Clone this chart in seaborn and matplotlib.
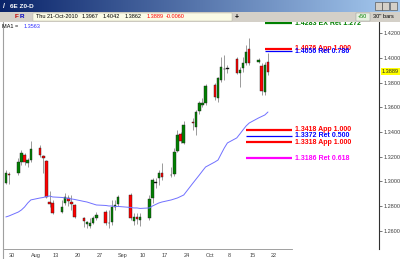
import numpy as np
import pandas as pd
import matplotlib
matplotlib.use("Agg")
import matplotlib.pyplot as plt
import seaborn as sns
from matplotlib.patches import Rectangle
from matplotlib.colors import LinearSegmentedColormap

# ---------------- data ----------------
dates = ['2010-07-29','2010-07-30','2010-08-02','2010-08-03','2010-08-04','2010-08-05','2010-08-06',
         '2010-08-09','2010-08-10','2010-08-11','2010-08-12','2010-08-13','2010-08-16','2010-08-17',
         '2010-08-18','2010-08-19','2010-08-20','2010-08-23','2010-08-24','2010-08-25','2010-08-26',
         '2010-08-27','2010-08-30','2010-08-31','2010-09-01','2010-09-02','2010-09-03','2010-09-07',
         '2010-09-08','2010-09-09','2010-09-10','2010-09-13','2010-09-14','2010-09-15','2010-09-16',
         '2010-09-17','2010-09-20','2010-09-21','2010-09-22','2010-09-23','2010-09-24','2010-09-27',
         '2010-09-28','2010-09-29','2010-09-30','2010-10-01','2010-10-04','2010-10-05','2010-10-06',
         '2010-10-07','2010-10-08','2010-10-11','2010-10-12','2010-10-13','2010-10-14','2010-10-15',
         '2010-10-18','2010-10-19','2010-10-20','2010-10-21']
opens = [1.2987,1.3061,1.3069,1.3158,1.3215,1.3150,1.3174,1.3271,1.3207,1.3166,1.2833,1.2825,1.2752,1.2825,
         1.2866,1.2833,1.2809,1.2704,1.2655,1.2639,1.2663,1.2704,1.2752,1.2663,1.2671,1.2793,1.2817,1.2890,
         1.2679,1.2712,1.2687,1.2704,1.2866,1.2987,1.3028,1.3069,1.3053,1.3061,1.3247,1.3385,1.3312,1.3482,
         1.3442,1.3571,1.3620,1.3636,1.3782,1.3677,1.3823,1.3912,1.3912,1.3993,1.3880,1.3920,1.3961,1.4074,
         1.3969,1.3936,1.3726,1.3967]
highs = [1.3093,1.3077,1.3190,1.3255,1.3231,1.3190,1.3328,1.3296,1.3215,1.3174,1.2923,1.2850,1.2850,1.2907,
         1.2890,1.2890,1.2817,1.2712,1.2679,1.2704,1.2720,1.2752,1.2769,1.2769,1.2850,1.2850,1.2890,1.2907,
         1.2744,1.2744,1.2744,1.2890,1.3028,1.3028,1.3093,1.3150,1.3118,1.3271,1.3417,1.3401,1.3490,1.3515,
         1.3580,1.3653,1.3677,1.3790,1.3799,1.3847,1.4009,1.4026,1.3945,1.4009,1.3928,1.4009,1.4107,1.4164,
         1.4001,1.3961,1.3969,1.4042]
lows = [1.2979,1.2979,1.3053,1.3134,1.3134,1.3118,1.3158,1.3198,1.3069,1.2866,1.2793,1.2736,1.2744,1.2809,
        1.2801,1.2769,1.2704,1.2631,1.2623,1.2623,1.2655,1.2687,1.2647,1.2623,1.2647,1.2769,1.2801,1.2687,
        1.2647,1.2655,1.2639,1.2687,1.2825,1.2947,1.2971,1.3012,1.3036,1.3044,1.3239,1.3312,1.3304,1.3417,
        1.3377,1.3547,1.3604,1.3620,1.3661,1.3644,1.3807,1.3823,1.3880,1.3872,1.3766,1.3888,1.3945,1.3945,
        1.3961,1.3701,1.3701,1.3862]
closes = [1.3069,1.3053,1.3158,1.3231,1.3158,1.3174,1.3263,1.3215,1.3190,1.2874,1.2817,1.2744,1.2793,1.2874,
          1.2842,1.2817,1.2712,1.2679,1.2671,1.2663,1.2704,1.2728,1.2663,1.2659,1.2793,1.2805,1.2874,1.2704,
          1.2712,1.2696,1.2712,1.2858,1.3012,1.2991,1.3069,1.3036,1.3049,1.3239,1.3377,1.3328,1.3458,1.3474,
          1.3563,1.3636,1.3636,1.3774,1.3685,1.3839,1.3928,1.3908,1.3916,1.3880,1.3904,1.3961,1.4050,1.3961,
          1.3985,1.3734,1.3945,1.3889]
ma1 = [1.2712,1.2720,1.2752,1.2769,1.2793,1.2825,1.2850,1.2866,1.2870,1.2878,1.2882,1.2874,1.2870,1.2866,
       1.2862,1.2858,1.2854,1.2838,1.2833,1.2825,1.2817,1.2809,1.2805,1.2801,1.2801,1.2797,1.2797,1.2789,
       1.2785,1.2785,1.2781,1.2785,1.2801,1.2813,1.2825,1.2833,1.2850,1.2858,1.2866,1.2878,1.2890,1.2988,
       1.3020,1.3052,1.3085,1.3117,1.3158,1.3174,1.3223,1.3271,1.3312,1.3353,1.3385,1.3418,1.3450,1.3474,
       1.3515,1.3527,1.3539,1.3563]

level_prices = [1.4283, 1.4076, 1.4056, 1.3418, 1.3372, 1.3318, 1.3186]
level_labels = ['1.4283 EX Ret 1.272', '1.4076 App 1.000', '1.4056 Ret 0.786',
                '1.3418 App 1.000', '1.3372 Ret 0.500', '1.3318 App 1.000', '1.3186 Ret 0.618']
level_colors = ['#008000', '#ff0000', '#0000ff', '#ff0000', '#0000ff', '#ff0000', '#ff00ff']
level_widths = [1.6, 1.6, 0.9, 1.6, 0.9, 1.6, 1.6]
level_from = ['2010-10-20', '2010-10-20', '2010-10-20', '2010-10-14', '2010-10-14', '2010-10-14', '2010-10-14']

tick_dates = ['2010-07-30','2010-08-06','2010-08-13','2010-08-20','2010-08-27','2010-09-03','2010-09-10',
              '2010-09-17','2010-09-24','2010-10-01','2010-10-08','2010-10-15','2010-10-22']
tick_labels = ['30','Aug','13','20','27','Sep','10','17','24','Oct','8','15','22']
price_ticks = [1.26, 1.28, 1.30, 1.32, 1.34, 1.36, 1.38, 1.40, 1.42]

header_date = 'Thu 21-Oct-2010'
header_vals = ['1.3967', '1.4042', '1.3862', '1.3889', '-0.0060']
last_price = 1.3889

# ---------------- layout ----------------
W, H = 400, 259
base = pd.Timestamp('2010-07-30')
def dnum(lst):
    return np.array([(pd.Timestamp(d) - base).days for d in lst], dtype=float)

sns.set_style("white")
plt.rcParams['font.family'] = ['Liberation Sans', 'DejaVu Sans']

fig = plt.figure(figsize=(W / 100, H / 100), dpi=100)
fig.patch.set_facecolor('white')

def fx(px): return px / W
def fy(py): return 1 - py / H

ax = fig.add_axes([fx(4), fy(249), fx(379) - fx(4), (249 - 22) / H])
ax.set_facecolor('white')

x = dnum(dates)
o = np.array(opens); c = np.array(closes); hi = np.array(highs); lo = np.array(lows)

ax.vlines(x, lo, hi, color='#8a8a8a', lw=0.6, zorder=2)
diff = c - o
col = np.where(np.abs(diff) < 0.0006, '#000000', np.where(diff > 0, '#008000', '#ff0000'))
bottom = np.minimum(o, c)
height = np.maximum(np.abs(diff), 0.0005)
ax.bar(x, height, bottom=bottom, width=0.8, color=col, edgecolor='#202020', lw=0.3, zorder=3)

sns.lineplot(x=x, y=ma1, ax=ax, color='#7070ff', lw=0.7, zorder=4)

# level lines
x_end = 90.7
for p, lab, clr, lw, frm in zip(level_prices, level_labels, level_colors, level_widths, level_from):
    xs = dnum([frm])[0]
    ax.hlines(p, xs, x_end, color=clr, lw=lw, zorder=5, clip_on=False)
    ax.text(x_end + 0.9, p, lab, color=clr, fontsize=5.0, fontweight='bold',
            va='center', ha='left', zorder=6, clip_on=False)

x0 = (4 - 9) / 3.12
x1 = (379 - 9) / 3.12
ax.set_xlim(x0, x1)
ax.set_ylim(1.2452, 1.4293)

ax.set_xticks(dnum(tick_dates))
ax.set_xticklabels(tick_labels)
ax.yaxis.tick_right()
ax.set_yticks(price_ticks)
ax.set_yticklabels([f'{v:.4f}' for v in price_ticks])
ax.tick_params(axis='x', length=2, width=0.5, labelsize=4, pad=1, colors='#404040', direction='out')
ax.tick_params(axis='y', length=2, width=0.5, labelsize=4, pad=1, colors='#404040', direction='out')
for lbl in ax.get_xticklabels():
    lbl.set_ha('left')
ax.set_xlabel(''); ax.set_ylabel('')
for s in ['top', 'left']:
    ax.spines[s].set_visible(False)
ax.spines['right'].set_color('#303030'); ax.spines['right'].set_linewidth(0.8)
ax.spines['bottom'].set_color('#909090'); ax.spines['bottom'].set_linewidth(0.6)
ax.spines['bottom'].set_bounds(x0, x_end)

# last price marker
ax.annotate(f'{last_price:.4f}', xy=(1.0, last_price), xycoords=('axes fraction', 'data'),
            xytext=(2, 0), textcoords='offset points', fontsize=4, va='center', ha='left',
            bbox=dict(boxstyle='square,pad=0.15', fc='#ffff00', ec='none'), annotation_clip=False)

# ---------------- window chrome ----------------
ax_t = fig.add_axes([0, fy(12), 1, 12 / H])
cmap = LinearSegmentedColormap.from_list('tb', ['#0a246a', '#a6caf0'])
ax_t.imshow(np.linspace(0, 1, 256)[None, :], aspect='auto', cmap=cmap, extent=[0, 1, 0, 1])
ax_t.axis('off')
fig.text(fx(3), fy(6), '/', color='white', fontsize=5, va='center', fontweight='bold')
fig.text(fx(10), fy(6), '6E Z0-D', color='white', fontsize=4.6, va='center', fontweight='bold')
for bx in [375, 382, 390]:
    fig.patches.append(Rectangle((fx(bx), fy(10)), 6.5 / W, 8 / H, transform=fig.transFigure,
                                 fc='#d4d0c8', ec='#404040', lw=0.4))

fig.patches.append(Rectangle((0, fy(22)), 1, 10 / H, transform=fig.transFigure, fc='#d4d0c8', ec='none'))
fig.patches.append(Rectangle((fx(33), fy(21)), 199 / W, 8 / H, transform=fig.transFigure,
                             fc='#fbfbe6', ec='#b0b0a0', lw=0.3))
fig.text(fx(15), fy(17), 'F', color='#c00000', fontsize=4.6, va='center', fontweight='bold')
fig.text(fx(20), fy(17), 'R', color='#0000c0', fontsize=4.6, va='center', fontweight='bold')
fig.text(fx(36), fy(17), header_date, color='black', fontsize=4, va='center')
hx = [82, 103, 125, 147, 166]
hc = ['black', 'black', 'black', '#ff0000', '#ff0000']
for xx, v, cc in zip(hx, header_vals, hc):
    fig.text(fx(xx), fy(17), v, color=cc, fontsize=4, va='center')
fig.text(fx(235), fy(17), '+', color='black', fontsize=5, va='center', fontweight='bold')
fig.patches.append(Rectangle((fx(356), fy(21)), 14 / W, 8 / H, transform=fig.transFigure,
                             fc='#e8f0e0', ec='#909090', lw=0.3))
fig.text(fx(358), fy(17), '+50', color='#008000', fontsize=4, va='center')
fig.text(fx(373), fy(17), "30'' bars", color='black', fontsize=4, va='center')

fig.add_artist(plt.Line2D([fx(3), fx(3)], [0, fy(22)], color='#a0a0a0', lw=0.8, transform=fig.transFigure))

fig.text(fx(2), fy(26), 'MA1 = ', color='black', fontsize=4, va='center')
fig.text(fx(24), fy(26), '1.3563', color='#3030ff', fontsize=4, va='center')

fig.savefig('out.png', dpi=100, facecolor='white')
